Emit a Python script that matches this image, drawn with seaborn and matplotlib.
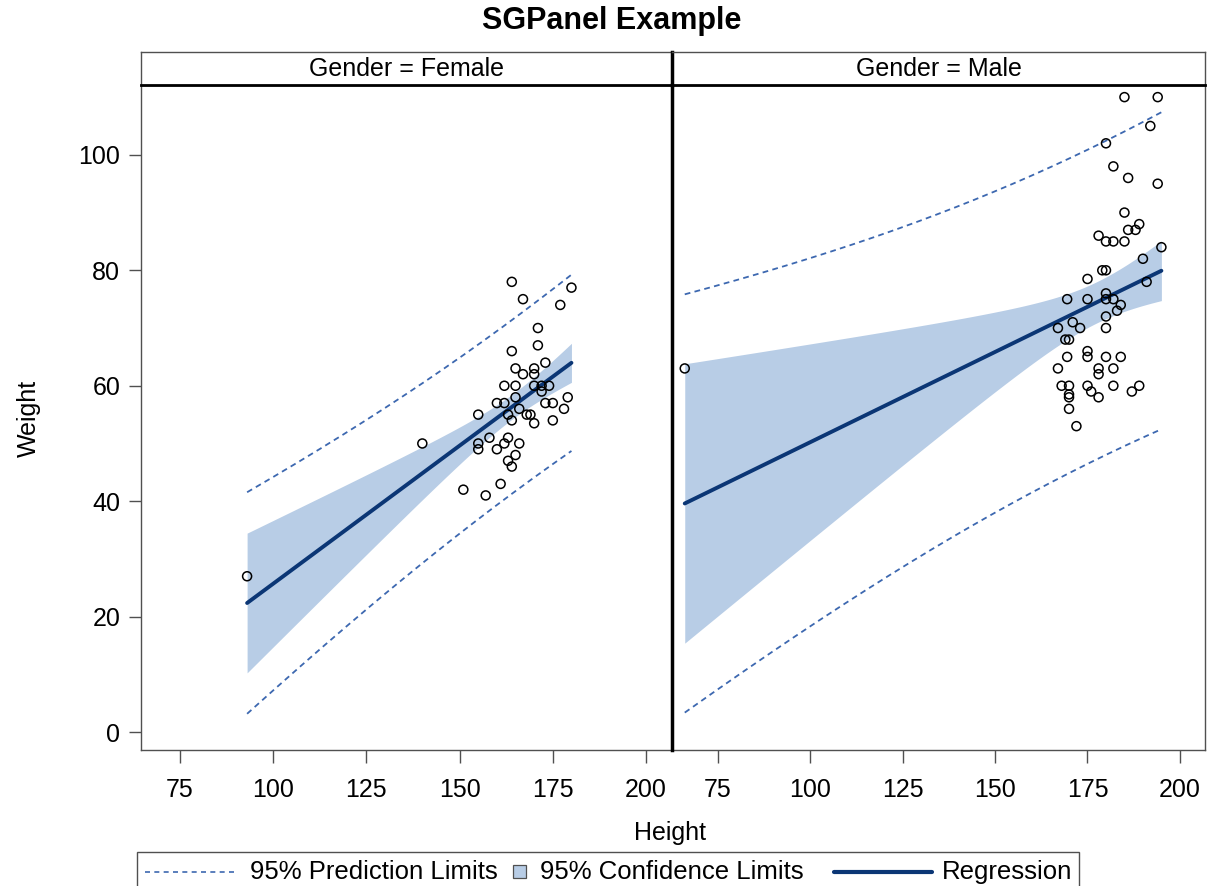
import numpy as np
import pandas as pd
import matplotlib
matplotlib.use("Agg")
import matplotlib.pyplot as plt
from matplotlib.lines import Line2D
from matplotlib.patches import Rectangle
from matplotlib.offsetbox import (AnchoredOffsetbox, DrawingArea, HPacker,
                                  TextArea)
import seaborn as sns

# ---- data -------------------------------------------------------------
female_height = [164, 167, 180, 177, 171, 171, 164, 165, 167, 170, 170, 173,
                 162, 165, 170, 172, 174, 172, 165, 160, 162, 166, 173, 175,
                 179, 178, 155, 163, 168, 169, 164, 170, 175, 140, 155, 155,
                 158, 163, 162, 160, 166, 165, 163, 164, 161, 151, 157, 93]
female_weight = [78, 75, 77, 74, 70, 67, 66, 63, 62, 63, 62, 64,
                 60, 60, 60, 60, 60, 59, 58, 57, 57, 56, 57, 57,
                 58, 56, 55, 55, 55, 55, 54, 53.5, 54, 50, 50, 49,
                 51, 51, 50, 49, 50, 48, 47, 46, 43, 42, 41, 27]

male_height = [185, 194, 192, 180, 182, 186, 194, 185, 189, 186, 188, 178,
               180, 182, 185, 195, 190, 175, 179, 180, 191, 169.5, 175, 180,
               180, 182, 184, 183, 180, 171, 167, 173, 180, 169, 170, 175,
               175, 169.5, 180, 184, 167, 178, 178, 182, 168, 170, 175, 176,
               178, 182, 187, 189, 170, 170, 170, 172, 66]
male_weight = [110, 110, 105, 102, 98, 96, 95, 90, 88, 87, 87, 86,
               85, 85, 85, 84, 82, 78.5, 80, 80, 78, 75, 75, 76,
               75, 75, 74, 73, 72, 71, 70, 70, 70, 68, 68, 66,
               65, 65, 65, 65, 63, 63, 62, 63, 60, 60, 60, 59,
               58, 60, 59, 60, 58.5, 58, 56, 53, 63]

genders = ["Female", "Male"]
x_ticks = [75, 100, 125, 150, 175, 200]
y_ticks = [0, 20, 40, 60, 80, 100]
legend_labels = ["95% Prediction Limits", "95% Confidence Limits", "Regression"]

df = pd.DataFrame({
    "Height": female_height + male_height,
    "Weight": female_weight + male_weight,
    "Gender": ["Female"] * len(female_height) + ["Male"] * len(male_height),
})

# ---- style -------------------------------------------------------------
sns.set_theme(style="white")
plt.rcParams["font.family"] = ["Liberation Sans", "DejaVu Sans"]
plt.rcParams["text.color"] = "black"
plt.rcParams["xtick.labelcolor"] = "black"
plt.rcParams["ytick.labelcolor"] = "black"

BAND = "#b8cde6"
FIT = "#0b3675"
LIMIT = "#3d68b0"
FRAME = "#505050"
DASH = (0, (3.2, 2.4))
FS = 18


def t_quantile(df_, z=1.959964):
    # Cornish-Fisher expansion of the Student t 97.5% quantile
    return (z + (z**3 + z) / (4 * df_)
            + (5 * z**5 + 16 * z**3 + 3 * z) / (96 * df_**2)
            + (3 * z**7 + 19 * z**5 + 17 * z**3 - 15 * z) / (384 * df_**3))


def fit_limits(x, y, n_grid=200):
    x = np.asarray(x, float)
    y = np.asarray(y, float)
    n = len(x)
    b1, b0 = np.polyfit(x, y, 1)
    resid = y - (b0 + b1 * x)
    s = np.sqrt(np.sum(resid**2) / (n - 2))
    sxx = np.sum((x - x.mean())**2)
    t = t_quantile(n - 2)
    g = np.linspace(x.min(), x.max(), n_grid)
    yhat = b0 + b1 * g
    se_mean = s * np.sqrt(1 / n + (g - x.mean())**2 / sxx)
    se_pred = s * np.sqrt(1 + 1 / n + (g - x.mean())**2 / sxx)
    return pd.DataFrame({
        "Height": g, "fit": yhat,
        "clm_lo": yhat - t * se_mean, "clm_hi": yhat + t * se_mean,
        "pl_lo": yhat - t * se_pred, "pl_hi": yhat + t * se_pred,
    })


W, H = 1215, 886
fig = plt.figure(figsize=(W / 100, H / 100), dpi=100)


def fx(px):
    return px / W


def fy(py):
    return 1 - py / H


panel_x = [(141, 672), (672, 1205)]
panel_xlim = [(64.54, 206.97), (62.55, 206.8)]
plot_top, plot_bottom, strip_top = 85, 750, 52

for i, (g, (x0, x1)) in enumerate(zip(genders, panel_x)):
    ax = fig.add_axes([fx(x0), fy(plot_bottom), fx(x1) - fx(x0),
                       fy(plot_top) - fy(plot_bottom)])
    sub = df[df["Gender"] == g]
    lim = fit_limits(sub["Height"], sub["Weight"])

    ax.fill_between(lim["Height"], lim["clm_lo"], lim["clm_hi"],
                    color=BAND, linewidth=0, zorder=1)
    sns.lineplot(data=lim, x="Height", y="pl_hi", ax=ax, color=LIMIT,
                 linewidth=1.3, linestyle=DASH, zorder=2)
    sns.lineplot(data=lim, x="Height", y="pl_lo", ax=ax, color=LIMIT,
                 linewidth=1.3, linestyle=DASH, zorder=2)
    sns.lineplot(data=lim, x="Height", y="fit", ax=ax, color=FIT,
                 linewidth=2.8, zorder=3)
    sns.scatterplot(data=sub, x="Height", y="Weight", ax=ax, s=42,
                    facecolor="none", edgecolor="black", linewidth=1.1,
                    zorder=4)

    ax.set_xlim(*panel_xlim[i])
    ax.set_ylim(-3.1, 112.1)
    ax.set_xticks(x_ticks)
    ax.set_xlabel("")
    ax.set_ylabel("")
    ax.tick_params(axis="x", which="both", bottom=True, length=9, width=1,
                   color=FRAME, labelsize=FS, pad=11)
    if i == 0:
        ax.set_yticks(y_ticks)
        ax.tick_params(axis="y", left=True, length=9, width=1,
                       color=FRAME, labelsize=FS, pad=6)
    else:
        ax.set_yticks([])
    for name, sp in ax.spines.items():
        sp.set_visible(True)
        sp.set_color(FRAME)
        sp.set_linewidth(1.0)
    if i == 0:
        ax.spines["right"].set_visible(False)
    else:
        ax.spines["left"].set_color("black")
        ax.spines["left"].set_linewidth(2.5)
        ax.spines["left"].set_zorder(5)

    # panel header strip
    sax = fig.add_axes([fx(x0), fy(plot_top), fx(x1) - fx(x0),
                        fy(strip_top) - fy(plot_top)])
    sax.set_xticks([])
    sax.set_yticks([])
    for name, sp in sax.spines.items():
        sp.set_color(FRAME)
        sp.set_linewidth(1.0)
    sax.spines["bottom"].set_color("black")
    sax.spines["bottom"].set_linewidth(2.0)
    if i == 0:
        sax.spines["right"].set_visible(False)
    else:
        sax.spines["left"].set_color("black")
        sax.spines["left"].set_linewidth(2.5)
    sax.text(0.5, 0.47, f"Gender = {g}", ha="center", va="center",
             fontsize=FS, transform=sax.transAxes)

fig.text(fx(612), fy(21), "SGPanel Example", ha="center", va="center",
         fontsize=22, fontweight="bold")
fig.text(fx(670), fy(833), "Height", ha="center", va="center", fontsize=FS)
fig.text(fx(29), fy(418), "Weight", ha="center", va="center", fontsize=FS,
         rotation=90)


# ---- legend built from packed boxes so each key has its own width ----
def line_key(width, **kw):
    da = DrawingArea(width, 12, 0, 0)
    da.add_artist(Line2D([0, width], [6, 6], **kw))
    return da


def square_key(size):
    da = DrawingArea(size, 12, 0, 0)
    da.add_artist(Rectangle((0, 6 - size / 2), size, size, facecolor=BAND,
                            edgecolor=FRAME, linewidth=0.9))
    return da


def gap(width):
    return DrawingArea(width, 1, 0, 0)


txt = dict(fontsize=18.5, color="black")
row = HPacker(children=[
    line_key(66, color=LIMIT, linewidth=1.2, linestyle=(0, (3.0, 2.6))),
    gap(10),
    TextArea(legend_labels[0], textprops=txt),
    gap(11),
    square_key(9.5),
    gap(10),
    TextArea(legend_labels[1], textprops=txt),
    gap(22),
    line_key(70, color=FIT, linewidth=3.0),
    gap(7),
    TextArea(legend_labels[2], textprops=txt),
], align="center", pad=0, sep=0)
box = AnchoredOffsetbox(loc="upper left", child=row, pad=0.55, borderpad=0,
                        frameon=True, prop=dict(size=10),
                        bbox_to_anchor=(fx(137), fy(852)),
                        bbox_transform=fig.transFigure)
box.patch.set_edgecolor(FRAME)
box.patch.set_linewidth(1.0)
box.patch.set_boxstyle("square", pad=0)
fig.add_artist(box)

fig.savefig("out.png", dpi=100)
